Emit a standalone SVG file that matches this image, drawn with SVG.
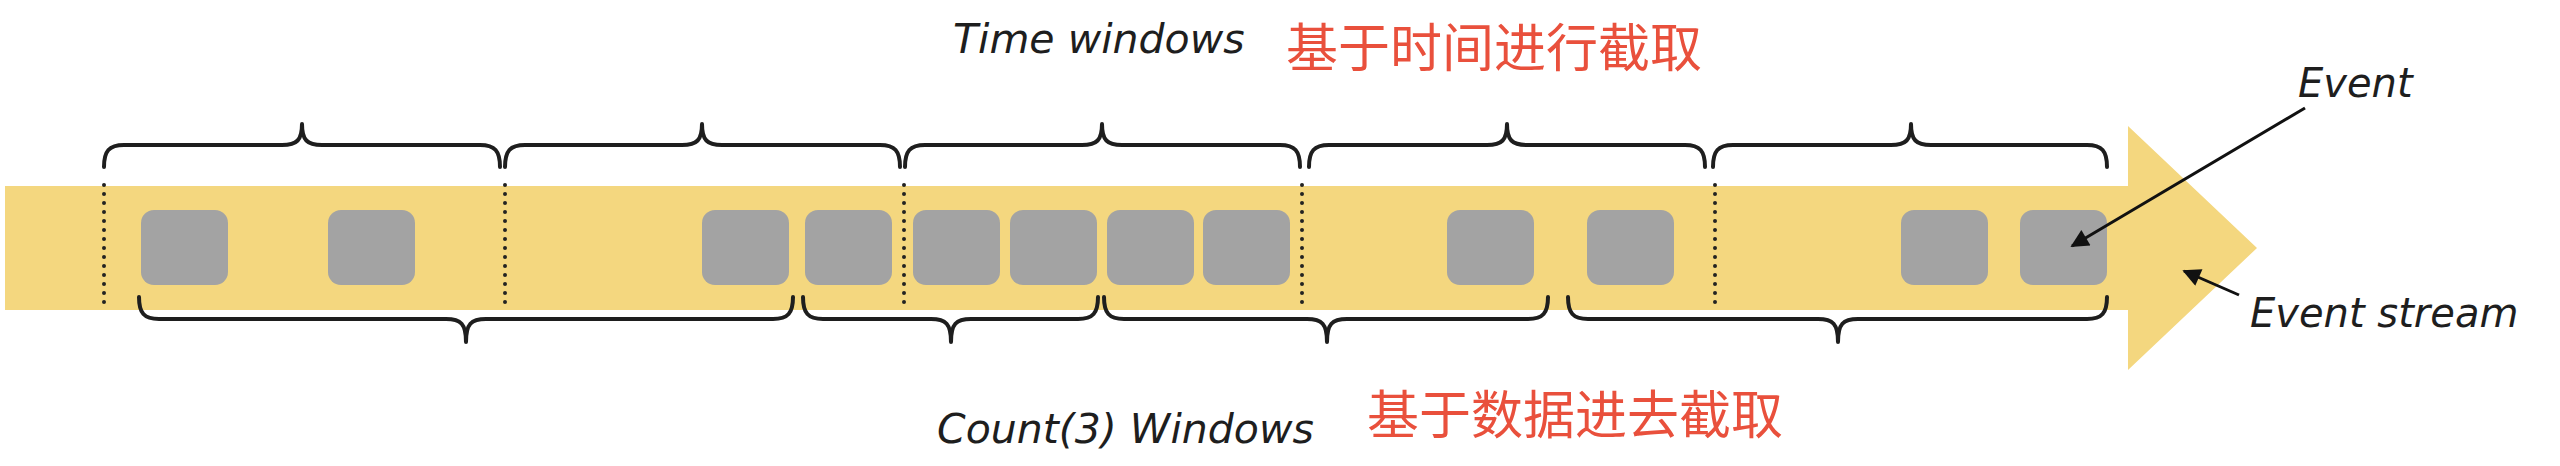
<svg xmlns="http://www.w3.org/2000/svg" width="2560" height="466" viewBox="0 0 2560 466">
<style>
.lbl{font-family:"DejaVu Sans","Liberation Sans",sans-serif;font-style:italic;fill:#1e1e1e}
.cn{font-family:"Noto Sans CJK SC","Noto Sans",sans-serif;fill:#e9503c;font-size:52px}
.ev{fill:#a3a3a3}
.brace{fill:none;stroke:#1e1e1e;stroke-width:4;stroke-linecap:round;stroke-linejoin:round}
.sep{stroke:#222;stroke-width:4;stroke-linecap:round;stroke-dasharray:0 9}
.conn{stroke:#111;stroke-width:3;fill:none}
</style>
<defs>
<marker id="ah" viewBox="0 0 10 10" refX="9" refY="5" markerWidth="7" markerHeight="6" orient="auto" markerUnits="strokeWidth">
<path d="M0,0 L10,5 L0,10 z" fill="#111"/>
</marker>
</defs>
<rect width="2560" height="466" fill="#ffffff"/>
<g id="stream">
<path d="M5,186 L2128,186 L2128,126 L2257,248 L2128,370 L2128,310 L5,310 Z" fill="#f4d77f"/>
</g>
<g id="separators">
<line class="sep" x1="104" y1="185" x2="104" y2="310"/>
<line class="sep" x1="505" y1="185" x2="505" y2="310"/>
<line class="sep" x1="904" y1="185" x2="904" y2="310"/>
<line class="sep" x1="1302" y1="185" x2="1302" y2="310"/>
<line class="sep" x1="1715" y1="185" x2="1715" y2="310"/>
</g>
<g id="events">
<rect id="event1" class="ev" x="141" y="210" width="87" height="75" rx="13"/>
<rect id="event2" class="ev" x="328" y="210" width="87" height="75" rx="13"/>
<rect id="event3" class="ev" x="702" y="210" width="87" height="75" rx="13"/>
<rect id="event4" class="ev" x="805" y="210" width="87" height="75" rx="13"/>
<rect id="event5" class="ev" x="913" y="210" width="87" height="75" rx="13"/>
<rect id="event6" class="ev" x="1010" y="210" width="87" height="75" rx="13"/>
<rect id="event7" class="ev" x="1107" y="210" width="87" height="75" rx="13"/>
<rect id="event8" class="ev" x="1203" y="210" width="87" height="75" rx="13"/>
<rect id="event9" class="ev" x="1447" y="210" width="87" height="75" rx="13"/>
<rect id="event10" class="ev" x="1587" y="210" width="87" height="75" rx="13"/>
<rect id="event11" class="ev" x="1901" y="210" width="87" height="75" rx="13"/>
<rect id="event12" class="ev" x="2020" y="210" width="87" height="75" rx="13"/>
</g>
<g id="time-braces">
<path class="brace" d="M104,167 C104,151 109,145 124,145 L282,145 C297,145 302,140 302,124 C302,140 307,145 322,145 L480,145 C495,145 500,151 500,167"/>
<path class="brace" d="M505,167 C505,151 510,145 525,145 L682,145 C697,145 702,140 702,124 C702,140 707,145 722,145 L880,145 C895,145 900,151 900,167"/>
<path class="brace" d="M905,167 C905,151 910,145 925,145 L1082,145 C1097,145 1102,140 1102,124 C1102,140 1107,145 1122,145 L1280,145 C1295,145 1300,151 1300,167"/>
<path class="brace" d="M1309,167 C1309,151 1314,145 1329,145 L1487,145 C1502,145 1507,140 1507,124 C1507,140 1512,145 1527,145 L1685,145 C1700,145 1705,151 1705,167"/>
<path class="brace" d="M1713,167 C1713,151 1718,145 1733,145 L1891,145 C1906,145 1911,140 1911,124 C1911,140 1916,145 1931,145 L2087,145 C2102,145 2107,151 2107,167"/>
</g>
<g id="count-braces">
<path class="brace" d="M139,297 C139,313 144,319 159,319 L446,319 C461,319 466,324 466,342 C466,324 471,319 486,319 L773,319 C788,319 793,313 793,297"/>
<path class="brace" d="M803,297 C803,313 808,319 823,319 L931,319 C946,319 951,324 951,342 C951,324 956,319 971,319 L1078,319 C1093,319 1098,313 1098,297"/>
<path class="brace" d="M1104,297 C1104,313 1109,319 1124,319 L1307,319 C1322,319 1327,324 1327,342 C1327,324 1332,319 1347,319 L1528,319 C1543,319 1548,313 1548,297"/>
<path class="brace" d="M1568,297 C1568,313 1573,319 1588,319 L1818,319 C1833,319 1838,324 1838,342 C1838,324 1843,319 1858,319 L2087,319 C2102,319 2107,313 2107,297"/>
</g>
<g id="connectors">
<line class="conn" x1="2305" y1="108" x2="2072" y2="246" marker-end="url(#ah)"/>
<line class="conn" x1="2239" y1="295" x2="2184" y2="271" marker-end="url(#ah)"/>
</g>
<g id="label-time">
<text class="lbl" x="953" y="53" font-size="41">Time windows</text>
<text class="cn" x="1286" y="67">基于时间进行截取</text>
</g>
<g id="label-count">
<text class="lbl" x="937" y="443" font-size="41">Count(3) Windows</text>
<text class="cn" x="1367" y="434">基于数据进去截取</text>
</g>
<g id="label-event">
<text class="lbl" x="2298" y="97" font-size="40">Event</text>
</g>
<g id="label-stream">
<text class="lbl" x="2250" y="327" font-size="40">Event stream</text>
</g>
</svg>
